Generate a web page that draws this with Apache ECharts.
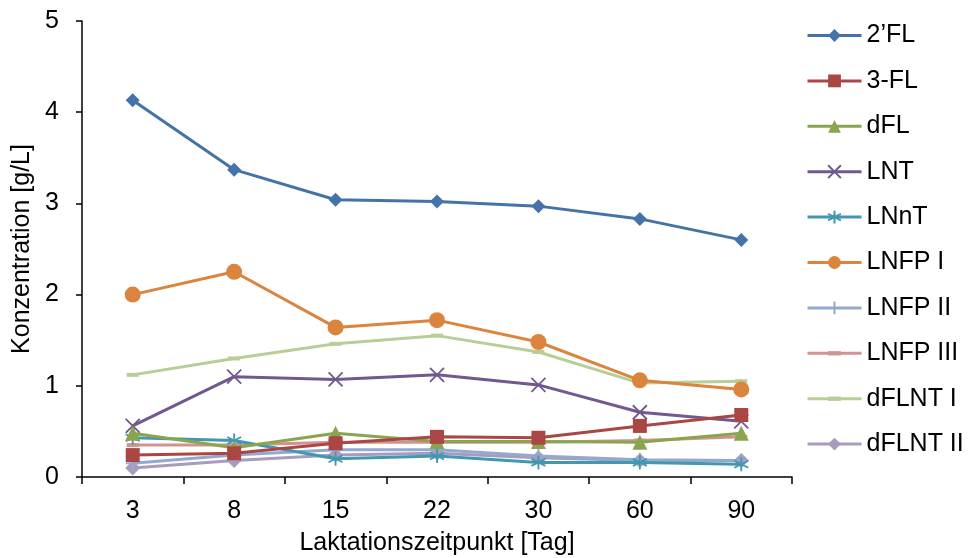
<!DOCTYPE html>
<html>
<head>
<meta charset="utf-8">
<script src="https://cdn.jsdelivr.net/npm/echarts@6/dist/echarts.min.js"></script>
<style>
  html, body { margin: 0; padding: 0; background: #fff; }
  #chart { width: 972px; height: 558px; }
</style>
</head>
<body>
<div id="chart"></div>
<script>
// Laktationszeitpunkt (Tag)
var days = ["3", "8", "15", "22", "30", "60", "90"];

// concentrations in g/L
var fl2     = [4.13, 3.37, 3.04, 3.02, 2.97, 2.83, 2.60];
var fl3     = [0.24, 0.26, 0.37, 0.44, 0.43, 0.56, 0.68];
var dfl     = [0.48, 0.32, 0.48, 0.39, 0.39, 0.38, 0.48];
var lnt     = [0.56, 1.10, 1.07, 1.12, 1.01, 0.71, 0.61];
var lnnt    = [0.43, 0.40, 0.20, 0.23, 0.16, 0.16, 0.14];
var lnfp1   = [2.00, 2.25, 1.64, 1.72, 1.48, 1.06, 0.96];
var lnfp2   = [0.15, 0.24, 0.30, 0.30, 0.23, 0.19, 0.18];
var lnfp3   = [0.35, 0.35, 0.38, 0.38, 0.38, 0.40, 0.44];
var dflnt1  = [1.12, 1.30, 1.46, 1.55, 1.37, 1.03, 1.05];
var dflnt2  = [0.10, 0.18, 0.24, 0.26, 0.21, 0.18, 0.18];

var names  = ["2’FL", "3-FL", "dFL", "LNT", "LNnT", "LNFP I", "LNFP II", "LNFP III", "dFLNT I", "dFLNT II"];
var values = [fl2, fl3, dfl, lnt, lnnt, lnfp1, lnfp2, lnfp3, dflnt1, dflnt2];
var colors = ["#4572A7", "#AA4643", "#89A54E", "#71588F", "#4198AF", "#DB843D", "#93A9CF", "#D19392", "#B9CD96", "#A99BBD"];

var xPath    = "path://M0,0L10,10M10,0L0,10";
var starPath = "path://M5,0L5,10M0.7,2.5L9.3,7.5M0.7,7.5L9.3,2.5";
var plusPath = "path://M5,0L5,10M0,5L10,5";
// flat bar inside a square box (the bare moves only widen the bounds)
var dashPath = "path://M6,0M0,4H12V8H0ZM6,12";

var symbols = ["diamond", "rect", "triangle", xPath, starPath, "circle", plusPath, dashPath, dashPath, "diamond"];
var sizes   = [14, 14, 15, 14, 14, 16, 14, 12, 12, 15];
var stroked = [false, false, false, true, true, false, true, false, false, false];

var series = names.map(function (n, i) {
  return {
    name: n,
    type: "line",
    data: values[i],
    symbol: symbols[i],
    symbolSize: sizes[i],
    showAllSymbol: true,
    lineStyle: { width: 3, color: colors[i] },
    itemStyle: stroked[i]
      ? { color: colors[i], borderColor: colors[i], borderWidth: 1.8 }
      : { color: colors[i], borderWidth: 0 },
    z: 10 - i
  };
});

var chart = echarts.init(document.getElementById("chart"));
chart.setOption({
  animation: false,
  textStyle: { fontFamily: "Liberation Sans, Arial, sans-serif" },
  grid: { left: 82, right: 180, top: 21, bottom: 81, containLabel: false, outerBoundsMode: "none" },
  legend: {
    orient: "vertical",
    left: 806,
    top: 23,
    padding: 0,
    itemWidth: 54,
    itemHeight: 16,
    itemGap: 20.4,
    lineStyle: { width: 3 },
    textStyle: { fontSize: 25, color: "#000", lineHeight: 24 },
    data: names
  },
  xAxis: {
    type: "category",
    data: days,
    name: "Laktationszeitpunkt [Tag]",
    nameLocation: "middle",
    nameGap: 54,
    nameTextStyle: { fontSize: 25, color: "#000" },
    axisLine: { lineStyle: { color: "#000", width: 1.5 } },
    axisTick: { show: true, length: 7, lineStyle: { color: "#000", width: 1.5 } },
    axisLabel: { fontSize: 25, color: "#000", margin: 22 },
    splitLine: { show: false }
  },
  yAxis: {
    type: "value",
    min: 0,
    max: 5,
    interval: 1,
    name: "Konzentration [g/L]",
    nameLocation: "middle",
    nameGap: 44,
    nameTextStyle: { fontSize: 25, color: "#000" },
    axisLine: { show: true, lineStyle: { color: "#000", width: 1.5 } },
    axisTick: { show: true, length: 6, lineStyle: { color: "#000", width: 1.5 } },
    axisLabel: { fontSize: 25, color: "#000", margin: 23 },
    splitLine: { show: false }
  },
  series: series
});
</script>
</body>
</html>
